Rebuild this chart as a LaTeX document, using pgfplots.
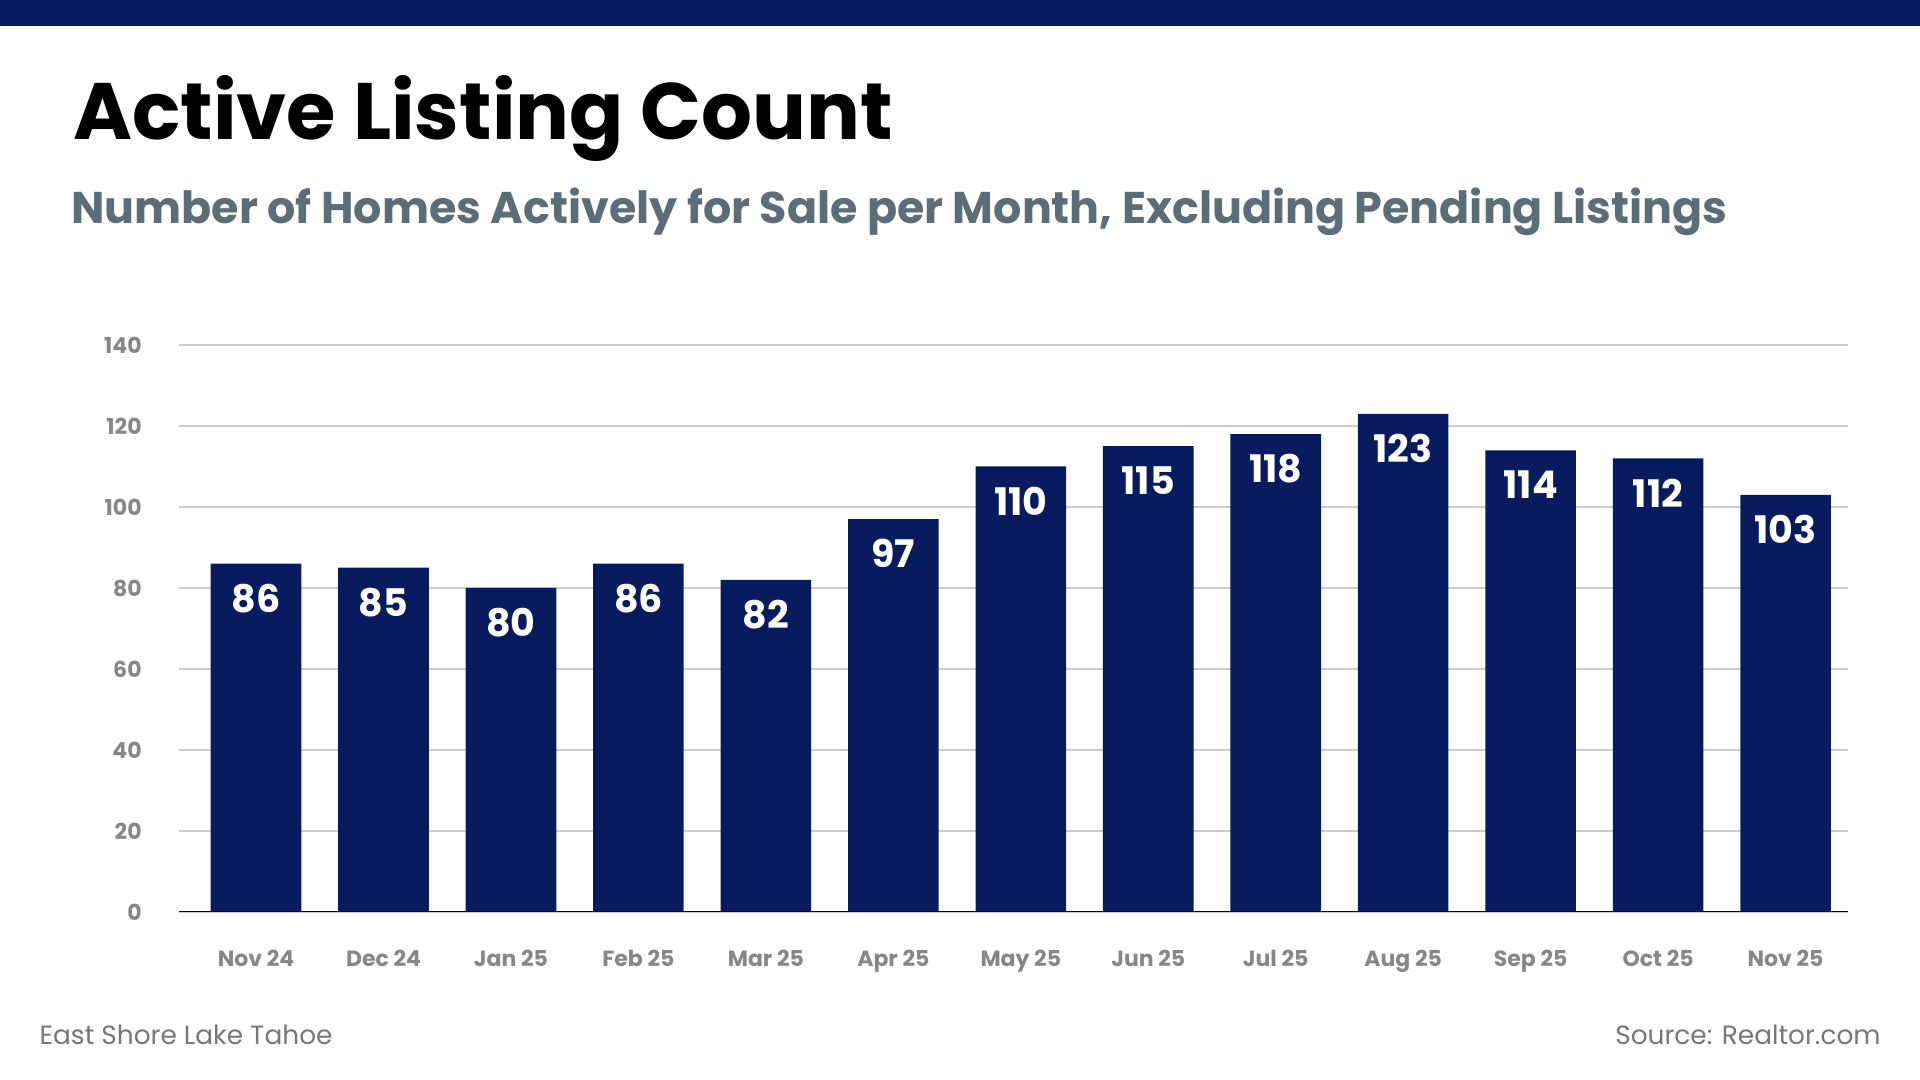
\documentclass[border=0pt]{standalone}
\usepackage{fontspec}
\setmainfont{Poppins}
\usepackage{pgfplots}
\pgfplotsset{compat=1.18}

\definecolor{navy}{HTML}{081B5E}
\definecolor{subgray}{HTML}{5B6E78}
\definecolor{tickgray}{HTML}{878787}
\definecolor{footgray}{HTML}{777777}
\definecolor{gridgray}{HTML}{CCCCCC}

\begin{document}
\begin{tikzpicture}[x=1pt,y=1pt]
\useasboundingbox (0,0) rectangle (960,540);
\fill[navy] (0,527) rectangle (960,540);

\node[anchor=base west, inner sep=0pt, font=\fontsize{40}{46}\selectfont\bfseries]
  at (36.5,470) {Active Listing Count};
\node[anchor=base west, inner sep=0pt, text=subgray, font=\fontsize{22.2}{25}\selectfont\bfseries]
  at (35.5,428) {Number of Homes Actively for Sale per Month, Excluding Pending Listings};

\begin{axis}[
    at={(89.4pt,84pt)}, anchor=south west,
    scale only axis,
    width=834.6pt, height=283.5pt,
    ybar, bar width=45.3pt,
    xmin=-0.606, xmax=12.49,
    ymin=0, ymax=140,
    ytick={0,20,...,140},
    xtick={0,...,12},
    xticklabels={Nov 24,Dec 24,Jan 25,Feb 25,Mar 25,Apr 25,May 25,Jun 25,Jul 25,Aug 25,Sep 25,Oct 25,Nov 25},
    /pgf/number format/assume math mode=true,
    ymajorgrids,
    grid style={gridgray, line width=0.75pt},
    axis line style={draw=none},
    major tick length=0pt,
    tick label style={text=tickgray, font=\fontsize{11}{12}\selectfont\bfseries},
    yticklabel style={anchor=east, inner sep=0pt, xshift=-18.4pt},
    xticklabel style={anchor=base, inner sep=0pt, yshift=-27.5pt},
    nodes near coords,
    every node near coord/.append style={text=white, anchor=center, yshift=-17.3pt,
      font=\fontsize{19}{20}\selectfont\bfseries},
  ]
  \addplot[fill=navy, draw=none] coordinates {
    (0,86) (1,85) (2,80) (3,86) (4,82) (5,97) (6,110)
    (7,115) (8,118) (9,123) (10,114) (11,112) (12,103)
  };
  \draw[black, line width=1pt] (rel axis cs:0,0) -- (rel axis cs:1,0);
\end{axis}

\node[anchor=west, inner sep=0pt, text=footgray, font=\fontsize{13.2}{14}\selectfont]
  at (19.6,22.5) {East Shore Lake Tahoe};
\node[anchor=east, inner sep=0pt, text=footgray, font=\fontsize{13.2}{14}\selectfont]
  at (940.5,22.5) {Source: Realtor.com};
\end{tikzpicture}
\end{document}
